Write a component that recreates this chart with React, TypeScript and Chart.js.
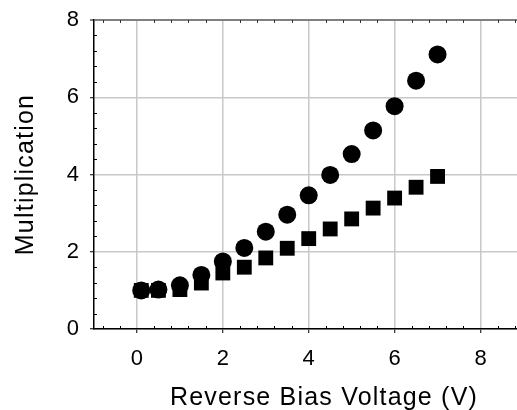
import React, { useEffect, useRef } from "react";
import { Chart, registerables } from "chart.js";

Chart.register(...registerables);

const VOLTAGE = [0.1, 0.5, 1.0, 1.5, 2.0, 2.5, 3.0, 3.5, 4.0, 4.5, 5.0, 5.5, 6.0, 6.5, 7.0];
const MULT_CIRCLE = [1.0, 1.02, 1.13, 1.4, 1.75, 2.1, 2.52, 2.96, 3.46, 3.99, 4.53, 5.14, 5.77, 6.43, 7.11];
const MULT_SQUARE = [1.0, 1.0, 1.02, 1.19, 1.45, 1.6, 1.84, 2.09, 2.34, 2.59, 2.85, 3.13, 3.39, 3.67, 3.95];
const X_TICKS = [0, 2, 4, 6, 8];
const Y_TICKS = [0, 2, 4, 6, 8];
const MINOR_STEP = 0.4;
const X_TITLE = "Reverse Bias Voltage (V)";
const Y_TITLE = "Multiplication";

const FONT = "'Liberation Sans', Arial, Helvetica, sans-serif";

const isMajor = (v: number) => Math.abs(v / 2 - Math.round(v / 2)) < 1e-6;

const decorations = {
  id: "decorations",
  afterDraw(chart: any) {
    const { ctx, chartArea, scales } = chart;
    const xs = scales.x;
    const ys = scales.y;
    ctx.save();
    ctx.lineWidth = 1;
    for (let i = Math.ceil(xs.min / MINOR_STEP); i * MINOR_STEP <= xs.max + 1e-9; i++) {
      const v = i * MINOR_STEP;
      if (isMajor(v)) continue;
      const px = Math.round(xs.getPixelForValue(v)) + 0.5;
      ctx.strokeStyle = "#000";
      ctx.beginPath();
      ctx.moveTo(px, chartArea.bottom);
      ctx.lineTo(px, chartArea.bottom - 3);
      ctx.stroke();
      ctx.strokeStyle = "#333";
      ctx.beginPath();
      ctx.moveTo(px, chartArea.top);
      ctx.lineTo(px, chartArea.top + 3);
      ctx.stroke();
    }
    for (let i = Math.ceil(ys.min / MINOR_STEP); i * MINOR_STEP <= ys.max + 1e-9; i++) {
      const v = i * MINOR_STEP;
      if (isMajor(v)) continue;
      const py = Math.round(ys.getPixelForValue(v)) + 0.5;
      ctx.strokeStyle = "#000";
      ctx.beginPath();
      ctx.moveTo(chartArea.left, py);
      ctx.lineTo(chartArea.left + 3, py);
      ctx.stroke();
    }
    ctx.fillStyle = "#000";
    ctx.font = `25px ${FONT}`;
    (ctx as any).letterSpacing = "1.2px";
    ctx.textAlign = "center";
    ctx.textBaseline = "alphabetic";
    ctx.fillText(X_TITLE, 324, 405);
    ctx.textBaseline = "middle";
    ctx.translate(26, (chartArea.top + chartArea.bottom) / 2);
    ctx.rotate(-Math.PI / 2);
    ctx.fillText(Y_TITLE, 0, 0);
    ctx.restore();
  },
};

export default function App() {
  const ref = useRef<HTMLCanvasElement | null>(null);
  useEffect(() => {
    if (!ref.current) return;
    const chart = new Chart(ref.current, {
      type: "scatter",
      data: {
        datasets: [
          {
            label: "circle",
            data: VOLTAGE.map((x, i) => ({ x, y: MULT_CIRCLE[i] })),
            pointStyle: "circle",
            pointRadius: 9,
            pointHoverRadius: 9,
            backgroundColor: "#000",
            borderColor: "#000",
            borderWidth: 0,
          },
          {
            label: "square",
            data: VOLTAGE.map((x, i) => ({ x, y: MULT_SQUARE[i] })),
            pointStyle: "rect",
            pointRadius: 10.5,
            pointHoverRadius: 10.5,
            backgroundColor: "#000",
            borderColor: "#000",
            borderWidth: 0,
          },
        ],
      },
      options: {
        animation: false,
        responsive: false,
        devicePixelRatio: 1,
        layout: { autoPadding: false, padding: { top: 20, right: 0, left: 0, bottom: 0 } },
        plugins: { legend: { display: false }, tooltip: { enabled: false } },
        scales: {
          x: {
            type: "linear",
            min: -1,
            max: 8.85,
            afterBuildTicks: (s: any) => {
              s.ticks = X_TICKS.map((v) => ({ value: v }));
            },
            afterFit: (s: any) => {
              s.height = 81;
              s.paddingLeft = 0;
              s.paddingRight = 0;
            },
            grid: {
              color: "#c8c8c8",
              lineWidth: 1.5,
              drawTicks: true,
              tickLength: 4,
              tickColor: "#000",
              tickWidth: 1,
            },
            border: { display: true, color: "#000", width: 1.5 },
            ticks: {
              color: "#000",
              font: { family: FONT, size: 22 },
              padding: 13,
              maxRotation: 0,
              callback: (v: any) => String(v),
            },
          },
          y: {
            type: "linear",
            min: 0,
            max: 8,
            afterBuildTicks: (s: any) => {
              s.ticks = Y_TICKS.map((v) => ({ value: v }));
            },
            afterFit: (s: any) => {
              s.width = 94;
              s.paddingTop = 0;
              s.paddingBottom = 0;
            },
            grid: {
              color: (c: any) => (c.tick && c.tick.value === 8 ? "#808080" : "#c8c8c8"),
              lineWidth: (c: any) => (c.tick && c.tick.value === 8 ? 2 : 1.5),
              drawTicks: true,
              tickLength: 4,
              tickColor: (c: any) => (c.tick && c.tick.value === 8 ? "#808080" : "#000"),
              tickWidth: (c: any) => (c.tick && c.tick.value === 8 ? 2 : 1),
            },
            border: { display: true, color: "#000", width: 1.5 },
            ticks: {
              color: "#000",
              font: { family: FONT, size: 22 },
              padding: 11,
              callback: (v: any) => String(v),
            },
          },
        },
      },
      plugins: [decorations],
    });
    return () => chart.destroy();
  }, []);
  return (
    <div style={{ position: "fixed", left: 0, top: 0, width: 517, height: 410, background: "#fff" }}>
      <canvas ref={ref} width={517} height={410} style={{ width: 517, height: 410, display: "block" }} />
    </div>
  );
}
